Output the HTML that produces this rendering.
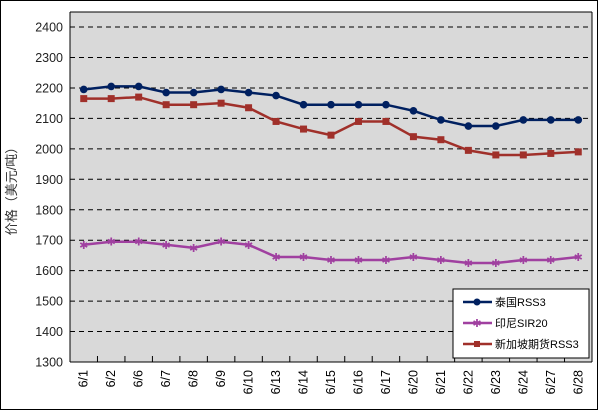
<!DOCTYPE html>
<html><head><meta charset="utf-8"><style>
body{margin:0;background:#fff;width:600px;height:412px;overflow:hidden}
text{font-family:"Liberation Sans","Noto Sans CJK SC",sans-serif}
</style></head><body>
<svg id="s" width="600" height="412" xmlns="http://www.w3.org/2000/svg">
<rect x="0.5" y="0.5" width="597" height="409" fill="#fff" stroke="#000" stroke-width="1"/>
<rect x="70" y="12" width="522" height="350" fill="#d9d9d9"/>
<g id="g"></g>
<line x1="70" y1="12" x2="70" y2="362" stroke="#000"/>
<line x1="70" y1="362" x2="592" y2="362" stroke="#000"/>
<line x1="70" y1="12" x2="592" y2="12" stroke="#000"/>
<line x1="592" y1="12" x2="592" y2="362" stroke="#000"/>
<text x="16" y="188" font-size="13" fill="#333" transform="rotate(-90 16 188)" text-anchor="middle">价格（美元/吨）</text>
<rect x="453" y="289" width="136" height="69" fill="#fff" stroke="#000"/>
<line x1="463" y1="302" x2="492" y2="302" stroke="#002060" stroke-width="2.5"/><circle cx="477" cy="302" r="3.5" fill="#002060"/>
<text x="495" y="306" font-size="11">泰国RSS3</text>
<line x1="463" y1="323" x2="492" y2="323" stroke="#a040a0" stroke-width="2.5"/><text x="477" y="327" font-size="11" fill="#a040a0" text-anchor="middle">✱</text>
<text x="495" y="327" font-size="11">印尼SIR20</text>
<line x1="463" y1="344" x2="492" y2="344" stroke="#a0302a" stroke-width="2.5"/><rect x="474" y="341" width="6" height="6" fill="#a0302a"/>
<text x="495" y="348" font-size="11">新加坡期货RSS3</text>
</svg>
<script>
var g=document.getElementById('g'),h='';
function Y(v){return 362-(v-1300)*0.3045;}
for(var v=1300;v<=2400;v+=100){var y=Y(v);
 if(v>1300)h+='<line x1="70" y1="'+y+'" x2="592" y2="'+y+'" stroke="#000" stroke-dasharray="5,4"/>';
 h+='<text x="63" y="'+(y+4.5)+'" font-size="12.5" text-anchor="end" fill="#222">'+v+'</text>';}
var L=['6/1','6/2','6/6','6/7','6/8','6/9','6/10','6/13','6/14','6/15','6/16','6/17','6/20','6/21','6/22','6/23','6/24','6/27','6/28'];
var W=522/19;
for(var i=0;i<19;i++){var tx=70+W*(i+1);h+='<line x1="'+tx+'" y1="356" x2="'+tx+'" y2="362" stroke="#000"/>';
 var cx=70+W*(i+0.5);h+='<text x="'+(cx+4)+'" y="370" font-size="12.5" text-anchor="end" transform="rotate(-90 '+(cx+4)+' 370)">'+L[i]+'</text>';}
var A=[2195,2205,2205,2185,2185,2195,2185,2175,2145,2145,2145,2145,2125,2095,2075,2075,2095,2095,2095];
var B=[1685,1695,1695,1685,1675,1695,1685,1645,1645,1635,1635,1635,1645,1635,1625,1625,1635,1635,1645];
var C=[2165,2165,2170,2145,2145,2150,2135,2090,2065,2045,2090,2090,2040,2030,1995,1980,1980,1985,1990];
function line(d,c){var p=d.map(function(v,i){return (70+W*(i+0.5))+','+Y(v)}).join(' ');h+='<polyline points="'+p+'" fill="none" stroke="'+c+'" stroke-width="2.5"/>';}
line(A,'#002060');line(B,'#a040a0');line(C,'#a0302a');
for(var i=0;i<19;i++){var x=70+W*(i+0.5);
 h+='<circle cx="'+x+'" cy="'+Y(A[i])+'" r="3.8" fill="#002060"/>';
 h+='<rect x="'+(x-3.5)+'" y="'+(Y(C[i])-3.5)+'" width="7" height="7" fill="#a0302a"/>';
 h+='<text x="'+x+'" y="'+(Y(B[i])+4)+'" font-size="11" fill="#a040a0" text-anchor="middle">✱</text>';}
g.innerHTML=h;
</script>
</body></html>
